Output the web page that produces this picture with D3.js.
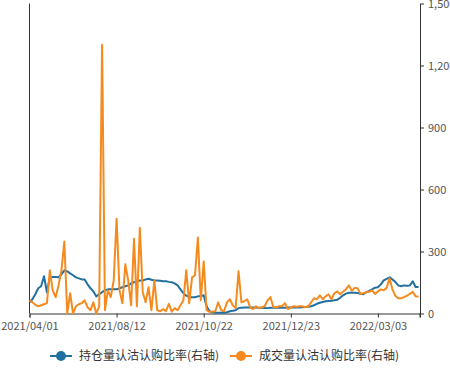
<!DOCTYPE html>
<html>
<head>
<meta charset="utf-8">
<script src="https://cdn.jsdelivr.net/npm/d3@7"></script>
<style>
  html, body { margin: 0; padding: 0; background: #fff; }
  svg { display: block; }
  text { font-family: "Noto Sans CJK SC", "DejaVu Sans", sans-serif; }
</style>
</head>
<body>
<svg id="chart" width="450" height="370"></svg>
<script>
// Tick labels along the category axis (index of the category where each label sits)
const tickLabels = ["2021/04/01", "2021/08/12", "2021/10/22", "2021/12/23", "2022/03/03"];
const tickIndex = [0, 30, 60, 90, 120];
const pointCount = 135;
const categories = d3.range(pointCount);

const seriesNames = ["持仓量认沽认购比率(右轴)", "成交量认沽认购比率(右轴)"];
const rightTicks = [0, 300, 600, 900, 1200, 1500];

// 持仓量认沽认购比率
const openInterestRatio = [
  54, 69, 93, 122, 132, 180, 103, 175, 177, 177,
  175, 189, 209, 204, 194, 185, 175, 170, 165, 165,
  141, 122, 107, 83, 93, 103, 112, 117, 117, 117,
  117, 122, 127, 132, 136, 146, 151, 156, 160, 160,
  165, 168, 163, 160, 160, 158, 156, 156, 153, 151,
  146, 136, 117, 98, 86, 79, 79, 79, 83, 83,
  88, 35, 11, 6, 4, 4, 4, 4, 6, 11,
  13, 16, 26, 28, 29, 29, 29, 29, 29, 28,
  28, 27, 26, 28, 28, 28, 28, 28, 28, 29,
  29, 29, 29, 29, 30, 31, 33, 35, 40, 47,
  52, 56, 59, 61, 62, 64, 67, 76, 88, 96,
  100, 101, 100, 99, 95, 93, 103, 109, 117, 125,
  127, 141, 160, 168, 175, 165, 153, 136, 132, 136,
  134, 136, 156, 128, 128
];

// 成交量认沽认购比率
const volumeRatio = [
  64, 54, 42, 35, 40, 45, 50, 209, 112, 79,
  136, 209, 348, 0, 98, 0, 35, 45, 50, 64,
  30, 16, 54, 0, 35, 1300, 16, 112, 79, 160,
  459, 112, 50, 238, 160, 40, 362, 35, 415, 103,
  54, 127, 16, 160, 16, 11, 21, 11, 47, 9,
  26, 16, 40, 64, 209, 50, 175, 185, 368, 64,
  252, 16, 8, 8, 11, 54, 16, 11, 54, 69,
  40, 26, 204, 54, 59, 69, 30, 21, 35, 26,
  30, 35, 64, 79, 30, 30, 35, 35, 50, 21,
  30, 35, 33, 35, 35, 30, 35, 54, 74, 69,
  88, 69, 83, 93, 69, 98, 107, 93, 105, 117,
  136, 110, 124, 122, 95, 98, 103, 105, 112, 95,
  107, 117, 112, 124, 170, 117, 86, 74, 74, 79,
  86, 95, 105, 83, 81
];

const colors = ["#22709f", "#f58b1f"];

const svg = d3.select("#chart");
const mLeft = 29.5, mRight = 420, mTop = 3.5, mBottom = 313.5;

const x = d3.scaleLinear().domain([0, 134.5]).range([mLeft, mRight]);
const y = d3.scaleLinear().domain([0, 1500]).range([mBottom, mTop]);

// left axis (line only)
svg.append("line")
  .attr("x1", mLeft).attr("x2", mLeft)
  .attr("y1", mTop).attr("y2", mBottom)
  .attr("stroke", "#333").attr("stroke-width", 1);

// x axis
const xAxis = d3.axisBottom(x)
  .tickValues(tickIndex)
  .tickFormat((d, i) => tickLabels[i])
  .tickSizeOuter(0)
  .tickSize(4);
const gx = svg.append("g").attr("transform", `translate(0,${mBottom})`).call(xAxis);
gx.select(".domain").attr("stroke", "#333");
gx.selectAll(".tick line").attr("stroke", "#333");
gx.selectAll(".tick text").attr("fill", "#555").attr("font-size", 11).attr("dy", "0.9em");
gx.append("line").attr("x1", mRight).attr("x2", mRight).attr("y1", 0).attr("y2", 4).attr("stroke", "#333");

// right axis
const yAxis = d3.axisRight(y)
  .tickValues(rightTicks)
  .tickFormat(d3.format(","))
  .tickSize(4)
  .tickSizeOuter(0);
const gy = svg.append("g").attr("transform", `translate(${mRight},0)`).call(yAxis);
gy.select(".domain").attr("stroke", "#333");
gy.selectAll(".tick line").attr("stroke", "#333");
gy.selectAll(".tick text").attr("fill", "#555").attr("font-size", 11).attr("x", 8);

// lines
const series = [openInterestRatio, volumeRatio];
const line = d3.line().x((d, i) => x(categories[i])).y(d => y(d));
series.forEach((s, k) => {
  svg.append("path")
    .datum(s)
    .attr("fill", "none")
    .attr("stroke", colors[k])
    .attr("stroke-width", 2)
    .attr("stroke-linejoin", "round")
    .attr("d", line);
});

// legend
const legendY = 356;
const legendItems = [
  { name: seriesNames[0], color: colors[0], x0: 50 },
  { name: seriesNames[1], color: colors[1], x0: 230 }
];
legendItems.forEach(it => {
  const g = svg.append("g");
  g.append("line").attr("x1", it.x0).attr("x2", it.x0 + 22)
    .attr("y1", legendY).attr("y2", legendY)
    .attr("stroke", it.color).attr("stroke-width", 2);
  g.append("circle").attr("cx", it.x0 + 11).attr("cy", legendY).attr("r", 5)
    .attr("fill", it.color);
  g.append("text").attr("x", it.x0 + 29).attr("y", legendY).attr("dy", "0.35em")
    .attr("font-size", 12).attr("fill", "#333").text(it.name);
});
</script>
</body>
</html>
